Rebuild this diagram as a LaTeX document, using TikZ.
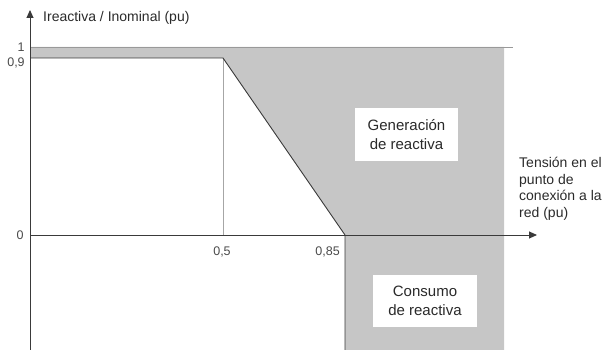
\documentclass[tikz,border=0pt]{standalone}
\usepackage{fontspec}
\setmainfont{Liberation Sans}
\usetikzlibrary{arrows.meta}
\definecolor{regiongray}{HTML}{C6C6C6}
\definecolor{ink}{HTML}{3A3A3A}
\definecolor{txt}{HTML}{2A2A2A}
\tikzset{
  axis/.style={draw=ink, line width=0.9pt, -{Triangle[length=8pt,width=7pt]}},
  curve/.style={draw=ink, line width=0.9pt},
  thin guide/.style={draw=gray!70, line width=0.6pt},
  lbl/.style={text=txt, font=\fontsize{14}{16.5}\selectfont, inner sep=0pt},
  tick/.style={text=txt!85, font=\fontsize{12.5}{14}\selectfont, inner sep=0pt},
  region/.style={fill=white, draw=none, text=txt, align=center, font=\fontsize{15}{19}\selectfont}
}
\begin{document}
\begin{tikzpicture}[x=1pt,y=-1pt]
\useasboundingbox (0,0) rectangle (605,350);
% key points
\coordinate (o) at (30,235);
\coordinate (ybot) at (30,350);
\coordinate (ytop) at (30,10);
\coordinate (xend) at (537,235);
\coordinate (one) at (30,47);
\coordinate (onee) at (513,47);
\coordinate (nine) at (30,58);
\coordinate (k) at (223,58);
\coordinate (half) at (223,235);
\coordinate (c) at (345,235);
\coordinate (cb) at (345,350);
\coordinate (rt) at (504,47);
\coordinate (rb) at (504,350);
% shaded region
\fill[fill=regiongray] (one) -- (rt) -- (rb) -- (cb) -- (c) -- (k) -- (nine) -- cycle;
\draw[draw=gray!80, line width=0.8pt] (one) -- (onee);
% boxes
\node[region, minimum width=103pt, minimum height=53pt] (gen) at (406.5,134.5) {Generación\\de reactiva};
\node[region, minimum width=104pt, minimum height=52pt] (con) at (425,301) {Consumo\\de reactiva};
% guides and curve
\draw[thin guide] (k) -- (half);
\draw[curve] (nine) -- (k) -- (c) -- (cb);
% axes
\draw[axis] (ybot) -- (ytop);
\draw[axis] (o) -- (xend);
% labels
\node[lbl, anchor=base west] (ylab) at (43,22) {Ireactiva / Inominal (pu)};
\node[lbl, anchor=north west, align=left] (xlab) at (519,157) {Tensión en el\\punto de\\conexión a la\\red (pu)};
\node[tick] (t1) at (21,47) {1};
\node[tick] (t09) at (16,63) {0,9};
\node[tick] (t0) at (20,235) {0};
\node[tick] (t05) at (222,252) {0,5};
\node[tick, anchor=east] (t085) at (340,252) {0,85};
\end{tikzpicture}
\end{document}
